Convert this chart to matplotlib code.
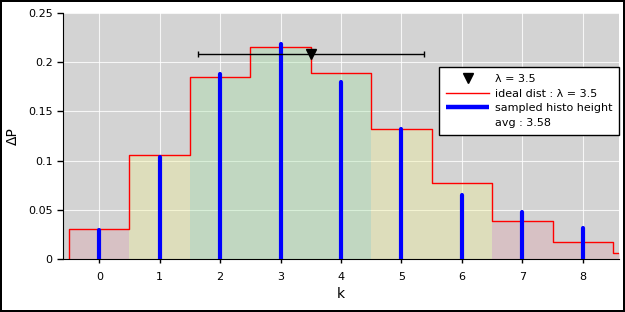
import numpy as np
import matplotlib
matplotlib.use("Agg")
import matplotlib.pyplot as plt

lam = 3.5
avg = 3.58
k_ideal = [0, 1, 2, 3, 4, 5, 6, 7, 8, 9]
p_ideal = [0.0302, 0.1057, 0.1850, 0.2158, 0.1888, 0.1322, 0.0771, 0.0385, 0.0169, 0.0066]
k_sample = [0, 1, 2, 3, 4, 5, 6, 7, 8]
p_sample = [0.029, 0.104, 0.188, 0.219, 0.180, 0.132, 0.065, 0.048, 0.032]
zone = ['r', 'y', 'g', 'g', 'g', 'y', 'y', 'r', 'r', 'r']
zone_colors = {'r': '#e0a0a8', 'y': '#f0f090', 'g': '#a0e0a0'}

fig = plt.figure(figsize=(6.25, 3.12), dpi=100)
fig.patch.set_edgecolor('black')
fig.patch.set_linewidth(1.5)
ax = fig.add_axes([63/625, 1-259/312, (619-63)/625, (259-13)/312])
ax.set_facecolor('#d3d3d3')
ax.grid(True, color='white', linewidth=0.8, alpha=0.8)
ax.set_axisbelow(True)

for k, p, z in zip(k_ideal, p_ideal, zone):
    ax.fill_between([k-0.5, k+0.5], 0, p, color=zone_colors[z], alpha=0.35, linewidth=0, zorder=1)

xs = []
ys = []
for k, p in zip(k_ideal, p_ideal):
    xs += [k-0.5, k+0.5]
    ys += [p, p]
xs = [xs[0]] + xs
ys = [0] + ys
ax.plot(xs, ys, color='red', linewidth=1.0, zorder=2, label='ideal dist : λ = %g' % lam)

ax.vlines(k_sample, 0, p_sample, color='blue', linewidth=3.0, zorder=3,
          capstyle='round', label='sampled histo height')

ax.errorbar([lam], [0.208], xerr=[np.sqrt(lam)], fmt='none', ecolor='black', elinewidth=1.0, capsize=2.5, zorder=4)
ax.plot([lam], [0.208], marker='v', color='black', markersize=7, linestyle='none', zorder=5, label='λ = %g' % lam)
ax.plot([], [], ' ', label='avg : %g' % avg)

ax.set_xlim(-0.6, 8.6)
ax.set_ylim(0, 0.25)
ax.set_xticks(range(0, 9))
ax.set_yticks([0, 0.05, 0.1, 0.15, 0.2, 0.25])
ax.set_yticklabels(['0', '0.05', '0.1', '0.15', '0.2', '0.25'])
ax.tick_params(axis='both', labelsize=8, length=4, width=1, colors='black')
ax.tick_params(axis='x', length=3, pad=6)
for s in ['top', 'right']:
    ax.spines[s].set_visible(False)
ax.set_xlabel('k', fontsize=10, labelpad=4)
ax.set_ylabel('ΔP', fontsize=10, labelpad=6)

h, l = ax.get_legend_handles_labels()
order = [2, 0, 1, 3]
leg = ax.legend([h[i] for i in order], [l[i] for i in order], loc='upper right',
                bbox_to_anchor=(1.0, 0.78), fontsize=8, frameon=True, fancybox=False,
                edgecolor='black', framealpha=1, handlelength=3.9, handletextpad=0.5,
                labelspacing=0.43, borderpad=0.6, borderaxespad=0)
leg.get_frame().set_linewidth(1.0)
leg.legend_handles[2].set_linewidth(3.2)

fig.savefig('out.png', dpi=100, edgecolor=fig.get_edgecolor())
